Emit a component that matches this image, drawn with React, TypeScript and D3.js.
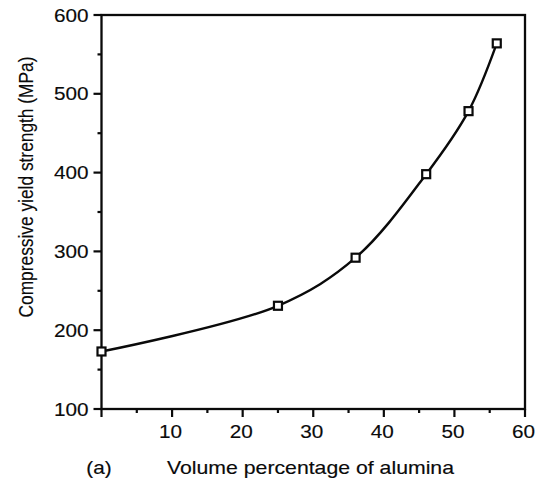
import React, { useRef, useEffect } from "react";
import * as d3 from "d3";

// volume percentage of alumina vs compressive yield strength
const alumina = [0, 25, 36, 46, 52, 56];
const strength = [173, 231, 292, 398, 478, 564];

const xMajor = [10, 20, 30, 40, 50, 60];
const xMinor = [0, 5, 15, 25, 35, 45, 55];
const yMajor = [100, 200, 300, 400, 500, 600];
const yMinor = [150, 250, 350, 450, 550];

const FONT = "'Liberation Sans', Arial, Helvetica, sans-serif";
const INK = "#0a0a0a";

const App = () => {
	const chartRef = useRef<SVGSVGElement>(null);

	useEffect(() => {
		const width = 543;
		const height = 479;
		const margin = { top: 15, right: 18, bottom: 70, left: 101.5 };
		const stretch = 1.12; // the scan is wider than tall

		const svg = d3.select(chartRef.current).attr("width", width).attr("height", height);
		svg.selectAll("*").remove();

		const x = d3.scaleLinear().domain([0, 60]).range([margin.left, width - margin.right]);
		const y = d3.scaleLinear().domain([100, 600]).range([height - margin.bottom, margin.top]);

		const label = (sel) => sel
			.attr("font-family", FONT)
			.attr("fill", INK)
			.attr("stroke", INK)
			.attr("stroke-width", 0.15);

		// frame
		svg.append("rect")
			.attr("x", x(0))
			.attr("y", y(600))
			.attr("width", x(60) - x(0))
			.attr("height", y(100) - y(600))
			.attr("fill", "none")
			.attr("stroke", INK)
			.attr("stroke-width", 2.3);

		// y ticks
		svg.selectAll(".ymaj")
			.data(yMajor)
			.enter()
			.append("line")
			.attr("x1", x(0) - 8)
			.attr("x2", x(0))
			.attr("y1", d => y(d))
			.attr("y2", d => y(d))
			.attr("stroke", INK)
			.attr("stroke-width", 2.2);

		svg.selectAll(".ymin")
			.data(yMinor)
			.enter()
			.append("line")
			.attr("x1", x(0) - 4)
			.attr("x2", x(0))
			.attr("y1", d => y(d))
			.attr("y2", d => y(d))
			.attr("stroke", INK)
			.attr("stroke-width", 2.2);

		svg.selectAll(".ylab")
			.data(yMajor)
			.enter()
			.append("text")
			.attr("transform", d => `translate(${x(0) - 13},${y(d)}) scale(${stretch},1)`)
			.attr("dy", "0.36em")
			.attr("text-anchor", "end")
			.attr("font-size", 18.5)
			.call(label)
			.text(d => d);

		// x ticks
		svg.selectAll(".xmaj")
			.data(xMajor)
			.enter()
			.append("line")
			.attr("x1", d => x(d))
			.attr("x2", d => x(d))
			.attr("y1", y(100))
			.attr("y2", y(100) + 8)
			.attr("stroke", INK)
			.attr("stroke-width", 2.2);

		svg.selectAll(".xmin")
			.data(xMinor)
			.enter()
			.append("line")
			.attr("x1", d => x(d))
			.attr("x2", d => x(d))
			.attr("y1", y(100))
			.attr("y2", d => y(100) + (d === 0 ? 8 : 4))
			.attr("stroke", INK)
			.attr("stroke-width", 2.2);

		svg.selectAll(".xlab")
			.data(xMajor)
			.enter()
			.append("text")
			.attr("transform", d => `translate(${x(d) - 1.5},${y(100) + 29}) scale(${stretch},1)`)
			.attr("text-anchor", "middle")
			.attr("font-size", 18.5)
			.call(label)
			.text(d => d);

		// axis labels
		svg.append("text")
			.attr("x", 167)
			.attr("y", 474)
			.attr("font-size", 18.5)
			.attr("textLength", 287)
			.attr("lengthAdjust", "spacingAndGlyphs")
			.call(label)
			.text("Volume percentage of alumina");

		svg.append("text")
			.attr("transform", `translate(99,474) scale(${stretch},1)`)
			.attr("text-anchor", "middle")
			.attr("font-size", 18.5)
			.call(label)
			.text("(a)");

		svg.append("text")
			.attr("transform", `translate(33,187) rotate(-90)`)
			.attr("text-anchor", "middle")
			.attr("font-size", 20.5)
			.attr("textLength", 261)
			.attr("lengthAdjust", "spacingAndGlyphs")
			.call(label)
			.text("Compressive yield strength (MPa)");

		// curve
		const points = alumina.map((a, i) => [a, strength[i]] as [number, number]);
		const line = d3.line<[number, number]>()
			.x(d => x(d[0]))
			.y(d => y(d[1]))
			.curve(d3.curveCatmullRom.alpha(0.5));

		svg.append("path")
			.datum(points)
			.attr("d", line)
			.attr("fill", "none")
			.attr("stroke", INK)
			.attr("stroke-width", 2.4);

		// markers
		const s = 8;
		svg.selectAll(".mark")
			.data(points)
			.enter()
			.append("rect")
			.attr("x", d => x(d[0]) - s / 2)
			.attr("y", d => y(d[1]) - s / 2)
			.attr("width", s)
			.attr("height", s)
			.attr("fill", "#fff")
			.attr("stroke", INK)
			.attr("stroke-width", 2.2);
	}, []);

	return (
		<div style={{ position: "absolute", left: 0, top: 0, background: "#fff" }}>
			<svg ref={chartRef}></svg>
		</div>
	);
};

export default App;
